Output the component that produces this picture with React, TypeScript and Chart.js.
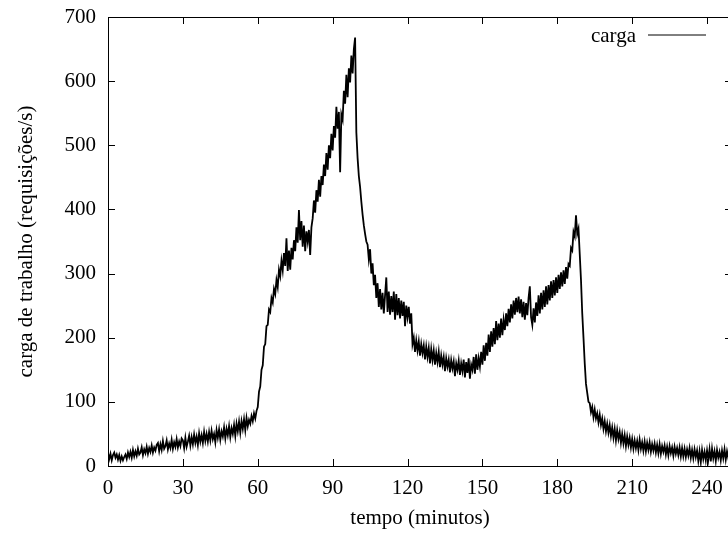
import React, { useEffect, useRef } from "react";
import { Chart, registerables } from "chart.js";

Chart.register(...registerables);

const FONT = "'Liberation Serif', 'Times New Roman', Times, serif";

// one sample every half minute (minute 0 .. 250)
const carga: number[] = [
  20, 11, 19, 9, 17, 21, 13, 18, 10, 17, 8, 15, 9, 14, 18, 11, 21, 14, 22, 13,
  25, 15, 23, 16, 27, 18, 21, 29, 17, 26, 20, 30, 19, 28, 22, 32, 21, 29, 24, 33,
  36, 23, 34, 25, 39, 27, 31, 40, 26, 35, 28, 41, 27, 37, 30, 42, 29, 38, 31, 43,
  40, 28, 44, 30, 38, 47, 32, 45, 34, 49, 36, 46, 33, 51, 38, 48, 36, 53, 39, 50,
  38, 53, 40, 55, 42, 50, 37, 56, 44, 57, 41, 54, 46, 60, 43, 58, 48, 62, 45, 59,
  50, 64, 47, 66, 54, 69, 52, 70, 58, 73, 56, 75, 62, 72, 66, 78, 70, 82, 74, 86,
  92, 116, 124, 150, 157, 186, 190, 218, 220, 244, 240, 262, 255, 276, 268, 290, 279, 306, 296, 320,
  305, 332, 312, 355, 304, 336, 306, 340, 322, 352, 335, 372, 348, 399, 352, 382, 342, 375, 335, 366,
  350, 368, 329, 372, 386, 414, 395, 430, 412, 446, 420, 452, 438, 470, 452, 488, 462, 500, 480, 518,
  492, 530, 512, 560, 526, 552, 458, 548, 540, 585, 565, 610, 575, 620, 598, 640, 612, 650, 668, 520,
  480, 452, 435, 412, 392, 375, 362, 350, 345, 322, 338, 300, 316, 282, 298, 262, 285, 248, 276, 244,
  270, 238, 266, 294, 240, 272, 236, 265, 240, 272, 228, 268, 235, 262, 230, 258, 234, 256, 218, 250,
  232, 248, 222, 238, 190, 200, 178, 196, 180, 194, 172, 190, 176, 188, 166, 186, 170, 184, 160, 182,
  165, 180, 158, 176, 162, 178, 154, 172, 158, 170, 148, 168, 155, 166, 146, 165, 152, 163, 140, 160,
  150, 164, 142, 160, 148, 166, 138, 162, 145, 168, 136, 158, 150, 170, 144, 174, 150, 168, 155, 178,
  158, 188, 164, 192, 172, 205, 178, 210, 186, 215, 190, 226, 196, 222, 200, 230, 204, 228, 212, 238,
  218, 245, 224, 252, 230, 258, 236, 262, 240, 264, 238, 260, 232, 256, 228, 254, 235, 262, 280, 232,
  220, 246, 224, 255, 234, 266, 238, 270, 244, 274, 248, 280, 252, 282, 258, 288, 262, 290, 266, 294,
  270, 298, 276, 302, 280, 305, 284, 310, 292, 315, 312, 340, 336, 365, 358, 391, 362, 370, 330, 290,
  238, 200, 160, 128, 114, 100, 98, 84, 92, 76, 88, 74, 82, 68, 80, 64, 74, 58, 70, 54,
  66, 52, 64, 47, 60, 44, 58, 40, 56, 42, 53, 36, 50, 35, 48, 31, 46, 33, 44, 29,
  42, 27, 40, 28, 39, 25, 41, 27, 37, 24, 38, 23, 36, 25, 37, 22, 34, 24, 35, 21,
  33, 20, 34, 19, 31, 22, 32, 18, 30, 17, 31, 20, 29, 16, 30, 19, 28, 17, 29, 15,
  28, 15, 27, 14, 26, 16, 28, 13, 25, 12, 26, 14, 24, 8, 23, 6, 25, 11, 22, 9,
  24, 10, 26, 7, 27, 12, 23, 8, 25, 13, 22, 9, 24, 12, 26, 10, 23, 13, 25, 11,
  22,
];
const minutes: number[] = carga.map((_, i) => i / 2);

const xTicks: number[] = [0, 30, 60, 90, 120, 150, 180, 210, 240];
const yTicks: number[] = [0, 100, 200, 300, 400, 500, 600, 700];
const seriesLabel = "carga";
const xTitle = "tempo (minutos)";
const yTitle = "carga de trabalho (requisições/s)";

const framePlugin = {
  id: "gnuplotFrame",
  afterDraw(chart: any) {
    const { ctx, chartArea: a, scales } = chart;
    ctx.save();
    ctx.strokeStyle = "#000";
    ctx.lineWidth = 1;
    ctx.strokeRect(a.left + 0.5, a.top + 0.5, a.right - a.left, a.bottom - a.top);
    const len = 7;
    ctx.beginPath();
    for (const v of xTicks) {
      const x = Math.round(scales.x.getPixelForValue(v)) + 0.5;
      ctx.moveTo(x, a.bottom);
      ctx.lineTo(x, a.bottom - len);
      ctx.moveTo(x, a.top);
      ctx.lineTo(x, a.top + len);
    }
    for (const v of yTicks) {
      const y = Math.round(scales.y.getPixelForValue(v)) + 0.5;
      ctx.moveTo(a.left, y);
      ctx.lineTo(a.left + len, y);
      ctx.moveTo(a.right, y);
      ctx.lineTo(a.right - len, y);
    }
    ctx.stroke();
    // key
    ctx.font = `21px ${FONT}`;
    ctx.fillStyle = "#000";
    ctx.textAlign = "right";
    ctx.textBaseline = "alphabetic";
    ctx.fillText(seriesLabel, 636, 42);
    ctx.beginPath();
    ctx.moveTo(648, 35);
    ctx.lineTo(706, 35);
    ctx.stroke();
    ctx.restore();
  },
};

export default function App() {
  const ref = useRef<HTMLCanvasElement | null>(null);

  useEffect(() => {
    if (!ref.current) return;
    const tickFont = { family: FONT, size: 21 };
    const chart = new Chart(ref.current, {
      type: "line",
      data: {
        datasets: [
          {
            label: seriesLabel,
            data: minutes.map((m, i) => ({ x: m, y: carga[i] })),
            borderColor: "#000",
            borderWidth: 1.8,
            pointRadius: 0,
            tension: 0,
            fill: false,
          },
        ],
      },
      options: {
        responsive: false,
        animation: false,
        events: [],
        layout: { padding: { top: 17, right: 8, left: 0, bottom: 0 } },
        plugins: { legend: { display: false }, tooltip: { enabled: false } },
        scales: {
          x: {
            type: "linear",
            min: 0,
            max: 250,
            afterBuildTicks: (s: any) => {
              s.ticks = xTicks.map((v) => ({ value: v }));
            },
            afterFit: (s: any) => {
              s.height = 68;
              s.paddingLeft = 0;
              s.paddingRight = 0;
            },
            grid: { display: false, drawTicks: false },
            border: { display: false },
            ticks: {
              color: "#000",
              font: tickFont,
              padding: 10,
              maxRotation: 0,
              autoSkip: false,
            },
            title: {
              display: true,
              text: xTitle,
              color: "#000",
              font: tickFont,
              padding: { top: 0, bottom: 3 },
            },
          },
          y: {
            type: "linear",
            min: 0,
            max: 700,
            afterBuildTicks: (s: any) => {
              s.ticks = yTicks.map((v) => ({ value: v }));
            },
            afterFit: (s: any) => {
              s.width = 108;
              s.paddingTop = 0;
              s.paddingBottom = 0;
            },
            grid: { display: false, drawTicks: false },
            border: { display: false },
            ticks: {
              color: "#000",
              font: tickFont,
              padding: 12,
              autoSkip: false,
            },
            title: {
              display: true,
              text: yTitle,
              color: "#000",
              font: tickFont,
              padding: { top: 14, bottom: 0 },
            },
          },
        },
      },
      plugins: [framePlugin],
    });
    return () => chart.destroy();
  }, []);

  return (
    <div
      style={{
        position: "fixed",
        left: 0,
        top: 0,
        width: 728,
        height: 534,
        overflow: "hidden",
        background: "#fff",
      }}
    >
      <canvas ref={ref} width={740} height={534} style={{ display: "block" }} />
    </div>
  );
}
